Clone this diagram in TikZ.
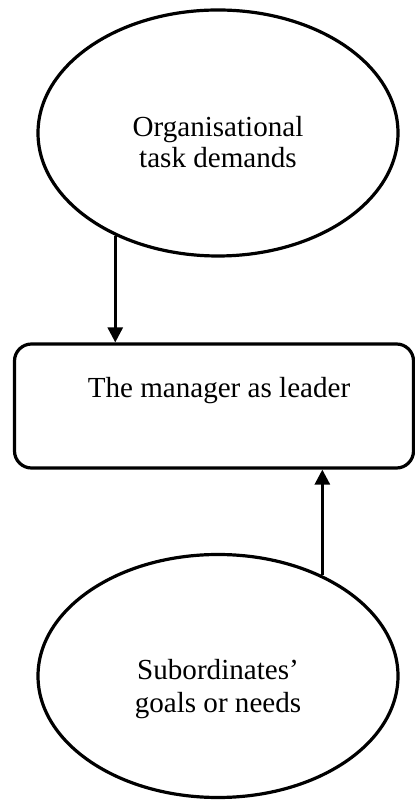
\documentclass[tikz,border=0pt]{standalone}
\usepackage{fontspec}
\setmainfont{Liberation Serif}
\usetikzlibrary{shapes.geometric,arrows.meta}
\begin{document}
\begin{tikzpicture}[x=1bp,y=1bp,
  shape line/.style={draw=black,line width=3.2bp},
  oval/.style={shape line,ellipse,minimum width=360bp,minimum height=246bp,inner sep=0pt},
  rbox/.style={shape line,rectangle,rounded corners=17bp,minimum width=399bp,minimum height=124bp,inner sep=0pt},
  label text/.style={font=\fontsize{29.2}{32}\selectfont,align=center,inner sep=0pt},
  conn/.style={line width=2.8bp,-{Triangle[length=15bp,width=15bp]}}]
\useasboundingbox (0,0) rectangle (414,800);
\node[oval] (top) at (218,667) {};
\node[label text,anchor=base] (toptext) at (218,663) {Organisational};
\node[label text,anchor=base] (toptext2) at (218,632) {task demands};
\node[rbox] (mgr) at (214,394) {};
\node[label text,anchor=base] (mgrtext) at (219,402) {The manager as leader};
\node[oval,minimum height=243bp] (bot) at (218,124) {};
\node[label text,anchor=base] (bottext) at (218,120) {Subordinates’};
\node[label text,anchor=base] (bottext2) at (218,87) {goals or needs};
\draw[conn] (top.-135) -- (top.-135 |- mgr.north);
\draw[conn] (bot.44.5) -- (bot.44.5 |- mgr.south);
\end{tikzpicture}
\end{document}
